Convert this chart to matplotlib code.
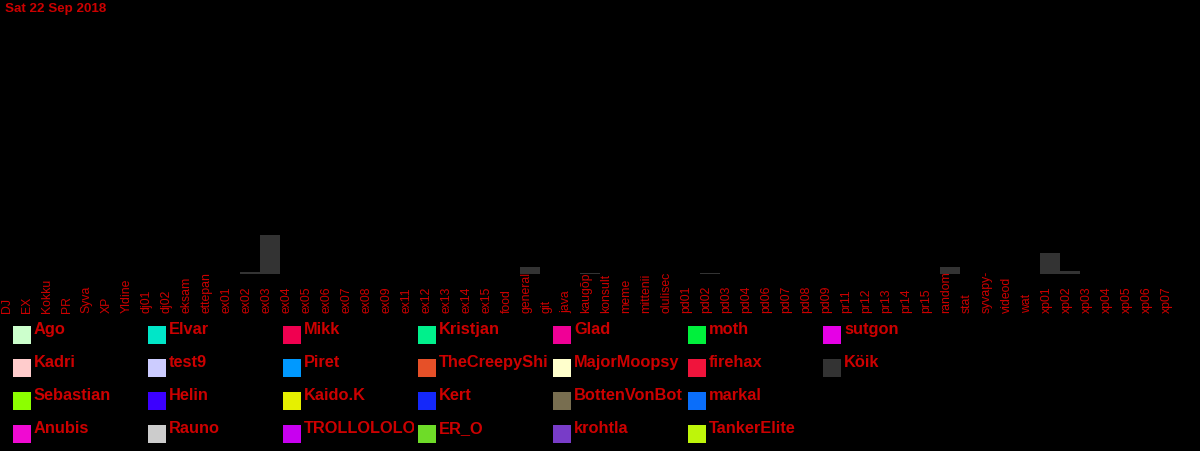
import matplotlib
matplotlib.use("Agg")
import matplotlib.pyplot as plt
import matplotlib.transforms as mtransforms
from matplotlib.patches import Rectangle

plt.rcParams["font.family"] = ["Liberation Sans", "DejaVu Sans"]

title = "Sat 22 Sep 2018"

channels = [
    "DJ", "EX", "Kokku", "PR", "Syva", "XP", "Yldine", "dj01", "dj02", "eksam",
    "ettepan", "ex01", "ex02", "ex03", "ex04", "ex05", "ex06", "ex07", "ex08", "ex09",
    "ex11", "ex12", "ex13", "ex14", "ex15", "food", "general", "git", "java", "kaugõp",
    "konsult", "meme", "mittenii", "olulisec", "pd01", "pd02", "pd03", "pd04", "pd06", "pd07",
    "pd08", "pd09", "pr11", "pr12", "pr13", "pr14", "pr15", "random", "stat", "syvapy-",
    "videod", "wat", "xp01", "xp02", "xp03", "xp04", "xp05", "xp06", "xp07",
]

# message volume per channel (everyone, "Köik")
volume = {
    "ex02": 2.3, "ex03": 39, "general": 7.5, "kaugõp": 1.5,
    "pd02": 1, "random": 7, "xp01": 21, "xp02": 3,
}

users = [
    "Ago", "Kadri", "Sebastian", "Anubis",
    "Elvar", "test9", "Helin", "Rauno",
    "Mikk", "Piret", "Kaido.K", "TROLLOLOLO",
    "Kristjan", "TheCreepyShi", "Kert", "ER_O",
    "Glad", "MajorMoopsy", "BottenVonBot", "krohtla",
    "moth", "firehax", "markal", "TankerElite",
    "sutgon", "Köik",
]
user_colors = [
    "#ccffcc", "#ffcccc", "#8cff00", "#f00ad2",
    "#00e6c8", "#ccccff", "#3c00ff", "#cccccc",
    "#f00050", "#0099ff", "#e6f000", "#c800f0",
    "#00f08c", "#e65028", "#1428fa", "#6edc28",
    "#f00096", "#ffffcc", "#786e50", "#783cc8",
    "#00f03c", "#f0143c", "#0a6efa", "#bef50a",
    "#e600e6", "#333333",
]

W, H = 1200, 452
red = "#cc0000"

fig = plt.figure(figsize=(W / 100, H / 100), dpi=100, facecolor="black")

# plot area: x 0..1180 px, baseline at y=275 px from top
ax = fig.add_axes([0, (H - 275) / H, 1180 / W, 275 / H])
ax.set_facecolor("black")
ax.axis("off")
xs = list(range(len(channels)))
heights = [volume.get(c, 0) for c in channels]
ax.bar([x + 0.5 for x in xs], heights, width=1.0, color="#333333", zorder=3)
ax.set_xlim(0, len(channels))
ax.set_ylim(0, 275)

# channel labels, reading upwards from a common start line
trans = mtransforms.blended_transform_factory(ax.transData, fig.transFigure)
for x, name in zip(xs, channels):
    ax.text(x + 0.33, (H - 313) / H, name, transform=trans, rotation=90,
            ha="center", va="bottom", color=red, fontsize=8.8, clip_on=False,
            zorder=1)

fig.text(5 / W, 1 - 12 / H, title, color=red, fontsize=9.6, fontweight="bold",
         ha="left", va="baseline")

# legend grid, filled column by column
for k, (name, col) in enumerate(zip(users, user_colors)):
    c, r = divmod(k, 4)
    sx = 13 + 135 * c
    sy = 327 + 33 * r
    fig.patches.append(Rectangle((sx / W, 1 - (sy + 18) / H), 18 / W, 18 / H,
                                 transform=fig.transFigure, facecolor=col,
                                 edgecolor="none"))
    t = fig.text((sx + 21) / W, 1 - (sy + 7) / H, name, color=red,
                 fontsize=11.8, fontweight="bold", ha="left", va="baseline")
    clip = Rectangle(((sx + 21) / W, 0), 110 / W, 1,
                     transform=fig.transFigure, visible=False)
    fig.patches.append(clip)
    t.set_clip_path(clip)

fig.savefig("out.png", dpi=100, facecolor="black")
